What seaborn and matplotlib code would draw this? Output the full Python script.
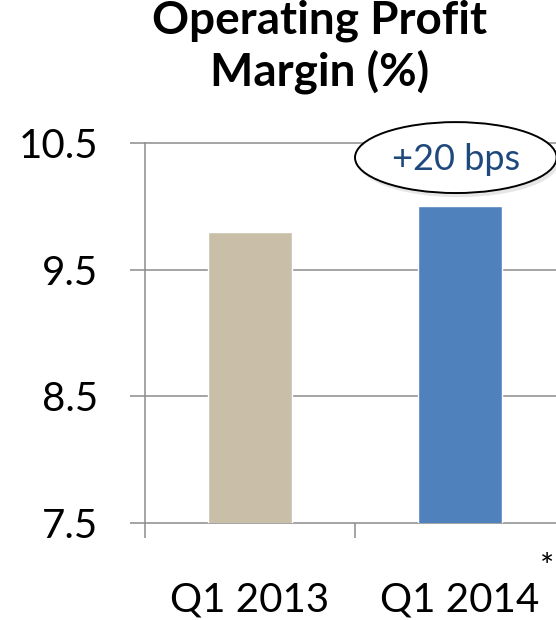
import matplotlib
matplotlib.use("Agg")
import matplotlib.pyplot as plt
from matplotlib.patches import Ellipse
from matplotlib import patheffects
import numpy as np
import pandas as pd
import seaborn as sns

# Chart data
periods = ["Q1 2013", "Q1 2014"]
margin_pct = [9.8, 10.0]
bar_colors = ["#C9BFA8", "#4F81BD"]
y_ticks = [7.5, 8.5, 9.5, 10.5]

sns.set_theme(style="white")
plt.rcParams["font.family"] = ["Lato", "DejaVu Sans"]
plt.rcParams["text.color"] = "black"

df = pd.DataFrame({"period": periods, "margin": margin_pct})

W, H, DPI = 556, 620, 100
fig = plt.figure(figsize=(W / DPI, H / DPI), dpi=DPI)
fig.patch.set_facecolor("white")

# plot area in pixel coordinates (left, top, right, bottom)
L, T, R, B = 145, 143, 565, 523
ax = fig.add_axes([L / W, 1 - B / H, (R - L) / W, (B - T) / H])

sns.barplot(data=df, x="period", y="margin", hue="period",
            palette=bar_colors, width=0.4, legend=False, ax=ax,
            saturation=1, zorder=3)

grid_c = "#8C8C8C"
ax.set_ylim(y_ticks[0], y_ticks[-1])
ax.set_xlim(-0.5, len(periods) - 0.5)
ax.set_yticks(y_ticks)
ax.set_yticklabels([f"{t:.1f}" for t in y_ticks])
for t in y_ticks:
    ax.axhline(t, color=grid_c, lw=1.1, zorder=1, clip_on=False)

for side in ["top", "right", "bottom"]:
    ax.spines[side].set_visible(False)
ax.spines["left"].set_color(grid_c)
ax.spines["left"].set_linewidth(1.1)
ax.spines["left"].set_zorder(2)

ax.set_xlabel("")
ax.set_ylabel("")
ax.tick_params(axis="y", direction="out", length=10.8, width=1.1, color=grid_c,
               pad=23, labelsize=29, labelcolor="black", left=True)
ax.set_xticks(range(len(periods)))
ax.set_xticks(np.arange(-0.5, len(periods), 1.0), minor=True)
ax.tick_params(axis="x", which="major", length=0, pad=42, labelsize=29,
               labelcolor="black")
ax.tick_params(axis="x", which="minor", direction="out", length=10.8, width=1.1,
               color=grid_c, bottom=True)

# change between the two periods, in basis points
delta_bps = round((margin_pct[1] - margin_pct[0]) * 100)
ell = Ellipse((0.98, 10.385), width=0.96, height=0.56, facecolor="white",
              edgecolor="black", lw=1.4, clip_on=False, zorder=5)
ell.set_path_effects([patheffects.SimplePatchShadow(offset=(2, -3), alpha=0.18,
                                                    shadow_rgbFace="#777777"),
                      patheffects.Normal()])
ax.add_patch(ell)
ax.text(0.98, 10.37, f"+{delta_bps} bps", ha="center", va="center",
        fontsize=26, color="#1F497D", zorder=6, clip_on=False)

fig.text(320 / W, 1 - 47 / H, "Operating Profit\nMargin (%)", ha="center",
         va="center", fontsize=33, fontweight="bold", linespacing=1.2,
         color="black")
fig.text(547 / W, 1 - 568 / H, "*", ha="center", va="center", fontsize=24)

fig.savefig("out.png", dpi=DPI)
